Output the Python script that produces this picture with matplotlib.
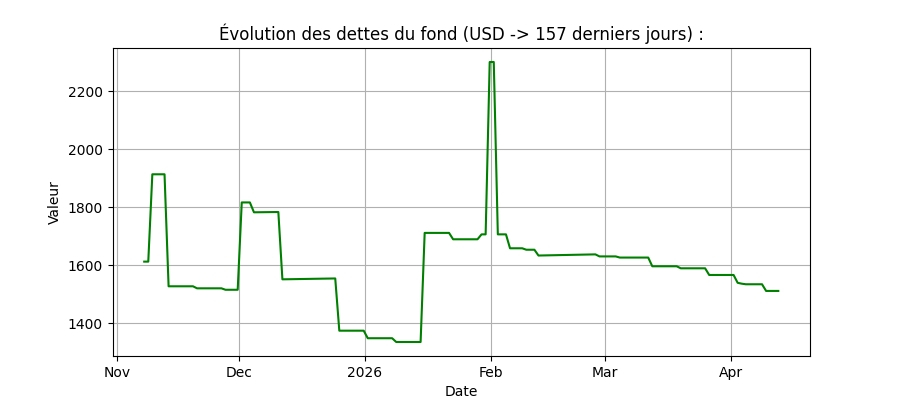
""" Debt history of the fund, last 157 days. """
import matplotlib
matplotlib.use("Agg")
import matplotlib.pyplot as plt
import matplotlib.dates as mdates
import pandas as pd

# dates where the value changes (daily records, 18h snapshot)
dates = [
    "2025-11-07", "2025-11-08", "2025-11-09", "2025-11-12", "2025-11-13",
    "2025-11-19", "2025-11-20", "2025-11-26", "2025-11-27", "2025-11-30",
    "2025-12-01", "2025-12-03", "2025-12-04", "2025-12-10", "2025-12-11",
    "2025-12-24", "2025-12-25", "2025-12-31", "2026-01-01", "2026-01-07",
    "2026-01-08", "2026-01-14", "2026-01-15", "2026-01-21", "2026-01-22",
    "2026-01-28", "2026-01-29", "2026-01-30", "2026-01-31", "2026-02-01",
    "2026-02-02", "2026-02-04", "2026-02-05", "2026-02-08", "2026-02-09",
    "2026-02-11", "2026-02-12", "2026-02-26", "2026-02-27", "2026-03-03",
    "2026-03-04", "2026-03-11", "2026-03-12", "2026-03-18", "2026-03-19",
    "2026-03-25", "2026-03-26", "2026-04-01", "2026-04-02", "2026-04-03",
    "2026-04-04", "2026-04-08", "2026-04-09", "2026-04-12",
]
values = [
    1613, 1613, 1914, 1914, 1528,
    1528, 1521, 1521, 1516, 1516,
    1817, 1817, 1783, 1784, 1552,
    1555, 1375, 1375, 1349, 1349,
    1336, 1336, 1712, 1712, 1690,
    1690, 1707, 1707, 2301, 2301,
    1707, 1707, 1659, 1659, 1654,
    1654, 1634, 1638, 1631, 1631,
    1627, 1627, 1597, 1597, 1590,
    1590, 1567, 1567, 1540, 1537,
    1535, 1535, 1512, 1512,
]

x = pd.to_datetime(dates) + pd.Timedelta(hours=18)

fig, ax = plt.subplots(figsize=(9, 4), dpi=100)
ax.plot(x, values, color="green", linewidth=1.5)
ax.set_title("Évolution des dettes du fond (USD -> 157 derniers jours) :")
ax.set_xlabel("Date")
ax.set_ylabel("Valeur")
locator = mdates.MonthLocator()
ax.xaxis.set_major_locator(locator)
ax.xaxis.set_major_formatter(mdates.ConciseDateFormatter(locator))
ax.grid(True)
fig.savefig("out.png")
